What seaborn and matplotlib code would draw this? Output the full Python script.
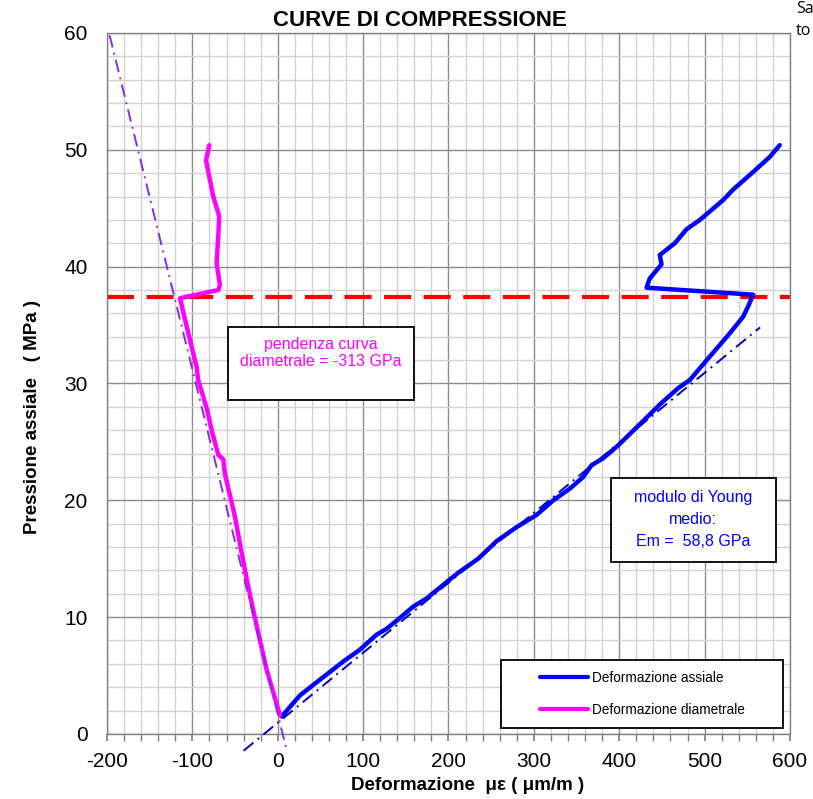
import numpy as np
import pandas as pd
import seaborn as sns
import matplotlib.pyplot as plt
from matplotlib.patches import Rectangle
from matplotlib.lines import Line2D
from matplotlib.ticker import MultipleLocator

# Curves (strain in microstrain, stress in MPa)
axial_strain = [4.6, 26, 41.6, 61, 76.7, 96, 115.8, 127.5, 141, 158.7, 174.3, 186, 211.4,
                234.8, 256.3, 279.7, 303.2, 322.8, 342.2, 357.8, 367.5, 381.2, 398.7, 424,
                447.5, 469, 482.7, 506, 529.5, 545, 551, 556.8,
                432, 435.8, 449.5, 447.5, 465, 478.8, 494.4, 521.7, 533.4, 556.8, 576.4, 588]
axial_stress = [1.5, 3.3, 4.2, 5.3, 6.2, 7.2, 8.5, 9.0, 9.8, 10.9, 11.6, 12.3, 13.8,
                15.0, 16.5, 17.7, 18.75, 20.0, 21.0, 22.0, 23.0, 23.6, 24.7, 26.5,
                28.2, 29.6, 30.3, 32.3, 34.3, 35.7, 36.6, 37.6,
                38.2, 39.0, 40.2, 41.0, 42.0, 43.2, 44.0, 45.7, 46.6, 48.1, 49.4, 50.4]

diam_strain = [2.6, -13, -20.8, -28.7, -34.5, -42.3, -50.1, -62, -63.8, -69.7, -77.4,
               -83.3, -93.2, -95, -106.7, -114.5,
               -69.7, -67.7, -71.6, -69.7, -68.5, -75.5, -80.2, -84, -80.2]
diam_stress = [1.6, 5.5, 8.0, 10.6, 12.6, 15.5, 18.6, 22.3, 23.5, 23.9, 26.0,
               27.9, 30.3, 31.4, 34.9, 37.3,
               38.0, 38.4, 40.3, 42.6, 44.3, 46.0, 47.7, 49.1, 50.4]

# linear fits: stress = intercept + slope * strain
axial_fit_x = [-40, 565]
axial_slope, axial_icpt = 0.0599, 0.96
diam_fit_x = [-197, 10.4]
diam_slope, diam_icpt = -0.295, 1.7

yield_stress = 37.4

x_ticks = [-200, -100, 0, 100, 200, 300, 400, 500, 600]
y_ticks = [0, 10, 20, 30, 40, 50, 60]

axial_df = pd.DataFrame({'strain': axial_strain, 'stress': axial_stress})
diam_df = pd.DataFrame({'strain': diam_strain, 'stress': diam_stress})

sns.set_theme(style='white')
plt.rcParams['font.family'] = ['Liberation Sans', 'DejaVu Sans']
plt.rcParams['text.color'] = 'black'
plt.rcParams['axes.unicode_minus'] = False

fig = plt.figure(figsize=(8.13, 7.99), dpi=100)
ax = fig.add_axes([0.1316, 0.0814, 0.8401, 0.8773])

ax.set_xlim(-200, 600)
ax.set_ylim(0, 60)
ax.set_xticks(x_ticks)
ax.set_yticks(y_ticks)
ax.xaxis.set_minor_locator(MultipleLocator(20))
ax.yaxis.set_minor_locator(MultipleLocator(2))
ax.set_axisbelow(True)
ax.grid(which='major', color='#8c8c8c', lw=1.0)
ax.grid(which='minor', color='#d2d2d2', lw=1.0)
for s in ax.spines.values():
    s.set_color('#808080')
    s.set_linewidth(1.0)
ax.tick_params(axis='x', which='both', direction='out', length=5, color='#808080',
               bottom=True, labelsize=15, pad=8, labelcolor='black')
ax.tick_params(axis='y', which='both', length=0, labelsize=15, pad=14, labelcolor='black')

# yield line
ax.axhline(yield_stress, color='#ff0000', lw=3, dashes=(6.5, 3), zorder=2)

# measured curves
sns.lineplot(data=axial_df, x='strain', y='stress', sort=False, estimator=None,
             color='#0000ff', lw=3.2, ax=ax, zorder=3)
sns.lineplot(data=diam_df, x='strain', y='stress', sort=False, estimator=None,
             color='#ff00ff', lw=3.2, ax=ax, zorder=3)

# fitted lines
ax_fx = np.array(axial_fit_x)
ax.plot(ax_fx, axial_icpt + axial_slope * ax_fx, color='#0000c0', lw=1.4,
        dashes=(6.5, 2.8, 1, 2.8), clip_on=False, zorder=4)
d_fx = np.array(diam_fit_x)
ax.plot(d_fx, diam_icpt + diam_slope * d_fx, color='#8a2be2', lw=1.4,
        dashes=(6.5, 2.8, 1, 2.8), clip_on=False, zorder=4)

ax.set_xlabel('')
ax.set_ylabel('')

# annotation boxes
ax.add_patch(Rectangle((-58.3, 28.6), 217.8, 6.2, facecolor='white', edgecolor='black',
                       lw=1.3, zorder=5))
ax.text(50.6, 33.3, 'pendenza curva', color='#ff00ff', fontsize=11.5,
        ha='center', va='center', zorder=6)
ax.text(50.6, 31.85, 'diametrale = -313 GPa', color='#ff00ff', fontsize=11.5,
        ha='center', va='center', zorder=6)

ax.add_patch(Rectangle((390.2, 14.7), 193.2, 7.2, facecolor='white', edgecolor='black',
                       lw=1.3, zorder=5))
for yy, line in zip([20.2, 18.35, 16.5], ['modulo di Young', 'medio:', 'Em =  58,8 GPa']):
    ax.text(486.5, yy, line, color='#0000ff', fontsize=11.5, ha='center', va='center', zorder=6)

# legend box
ax.add_patch(Rectangle((0.577, 0.0086), 0.413, 0.097, transform=ax.transAxes,
                       facecolor='white', edgecolor='black', lw=1.3, zorder=5))
handles = [Line2D([], [], color='#0000ff', lw=3), Line2D([], [], color='#ff00ff', lw=3)]
leg = ax.legend(handles, ['Deformazione assiale', 'Deformazione diametrale'],
                loc='center left', bbox_to_anchor=(0.634, 0.0571), frameon=False,
                fontsize=9.8, handlelength=3.5, handletextpad=0.35, labelspacing=1.35,
                borderpad=0, borderaxespad=0)
for t in leg.get_texts():
    t.set_color('black')
leg.set_zorder(7)

fig.text(420 / 813, 1 - 20 / 799, 'CURVE DI COMPRESSIONE', fontsize=16, fontweight='bold',
         ha='center', va='center')
fig.text(468 / 813, 1 - 786 / 799, 'Deformazione  με ( μm/m )', fontsize=13.5,
         fontweight='bold', ha='center', va='center')
fig.text(33 / 813, 1 - 417 / 799, 'Pressione assiale   ( MPa )', fontsize=13.5,
         fontweight='bold', rotation=90, ha='center', va='center')

# cut-off text at the right edge
fig.text(796 / 813, 1 - 13 / 799, 'Sa', fontsize=11.5, family=['Open Sans', 'DejaVu Sans'],
         va='baseline')
fig.text(796 / 813, 1 - 35 / 799, 'to', fontsize=11.5, family=['Open Sans', 'DejaVu Sans'],
         va='baseline')

fig.savefig('out.png', dpi=100)
